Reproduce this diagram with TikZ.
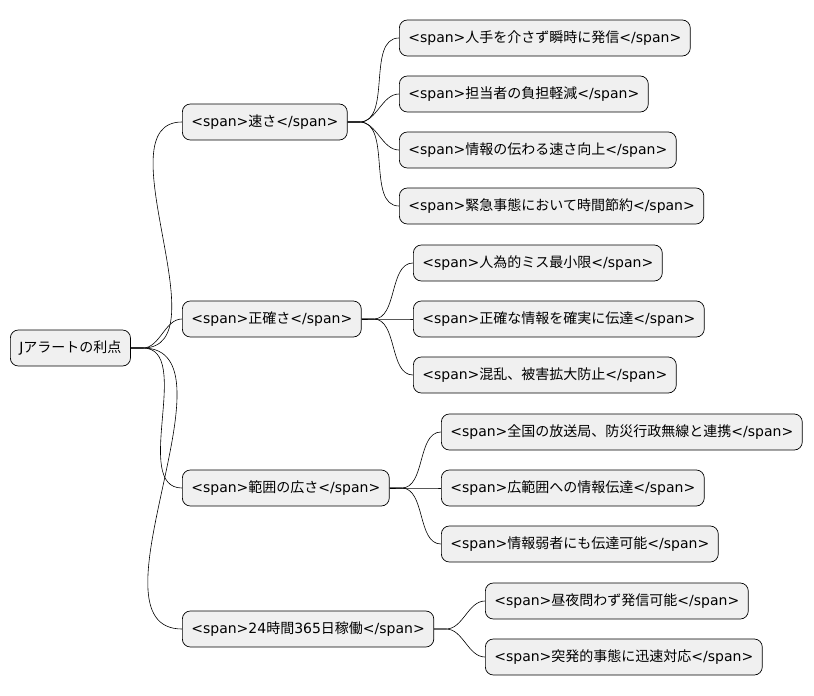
\documentclass[tikz,border=0pt]{standalone}
\usepackage{fontspec}
\setmainfont{DejaVu Sans}
\newfontfamily\cjk{Noto Sans CJK JP}
\newcommand{\jp}[1]{{\cjk #1}}
\begin{document}
\begin{tikzpicture}[x=1pt,y=-1pt,
    topic/.style={draw, line width=0.7pt, rounded corners=8pt, fill=black!6, minimum height=36pt,
      inner xsep=9pt, anchor=west, font=\fontsize{14}{16}\selectfont},
    branch/.style={out=0, in=180, looseness=0.9}]
  \useasboundingbox (0,0) rectangle (814,696);
  \node[topic](root) at (10,348) {J\jp{アラートの利点}};
  % first level
  \node[topic](speed) at (182,122) {<span>\jp{速さ}</span>};
  \node[topic](exact) at (182,319) {<span>\jp{正確さ}</span>};
  \node[topic](range) at (182,488) {<span>\jp{範囲の広さ}</span>};
  \node[topic](always) at (182,629) {<span>24\jp{時間}365\jp{日稼働}</span>};
  % second level
  \node[topic](s1) at (399,38) {<span>\jp{人手を介さず瞬時に発信}</span>};
  \node[topic](s2) at (399,94) {<span>\jp{担当者の負担軽減}</span>};
  \node[topic](s3) at (399,150) {<span>\jp{情報の伝わる速さ向上}</span>};
  \node[topic](s4) at (399,206) {<span>\jp{緊急事態において時間節約}</span>};
  \node[topic](e1) at (413,263) {<span>\jp{人為的ミス最小限}</span>};
  \node[topic](e2) at (413,319) {<span>\jp{正確な情報を確実に伝達}</span>};
  \node[topic](e3) at (413,375) {<span>\jp{混乱、被害拡大防止}</span>};
  \node[topic](r1) at (441,432) {<span>\jp{全国の放送局、防災行政無線と連携}</span>};
  \node[topic](r2) at (441,488) {<span>\jp{広範囲への情報伝達}</span>};
  \node[topic](r3) at (441,544) {<span>\jp{情報弱者にも伝達可能}</span>};
  \node[topic](a1) at (485,601) {<span>\jp{昼夜問わず発信可能}</span>};
  \node[topic](a2) at (485,657) {<span>\jp{突発的事態に迅速対応}</span>};
  \foreach \p/\c in {root/speed,root/exact,root/range,root/always,
      speed/s1,speed/s2,speed/s3,speed/s4,exact/e1,exact/e2,exact/e3,
      range/r1,range/r2,range/r3,always/a1,always/a2}{
    \draw[line width=0.6pt] (\p.east) -- ++(12,0) to[branch] (\c.west);
  }
\end{tikzpicture}
\end{document}
